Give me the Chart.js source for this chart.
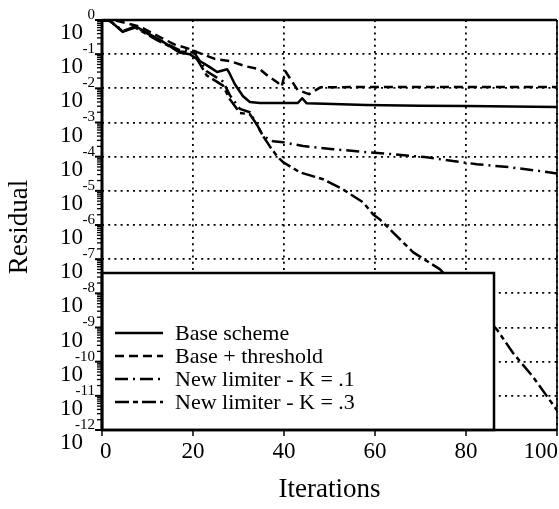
<!DOCTYPE html>
<html>
<head>
<meta charset="utf-8">
<script src="https://cdn.jsdelivr.net/npm/chart.js@4.4.1/dist/chart.umd.min.js"></script>
<style>
  html, body { margin: 0; padding: 0; background: #fff; }
  canvas { display: block; }
</style>
</head>
<body>
<canvas id="c" width="559" height="509"></canvas>
<script>
// Convergence histories: iteration number and log10 of the residual
const baseIter     = [0, 1.8, 4.6, 7.3, 10, 13, 17, 19.3, 21.5, 23.7, 25.3, 27.5, 28.1, 29.2, 31, 32.5, 34.7, 39.8, 43, 44, 45, 50.8, 58, 70, 80, 90, 100];
const baseLogRes   = [0, -0.03, -0.35, -0.18, -0.38, -0.6, -0.95, -1.0, -1.2, -1.38, -1.52, -1.44, -1.58, -1.88, -2.23, -2.40, -2.43, -2.43, -2.43, -2.29, -2.44, -2.46, -2.49, -2.51, -2.52, -2.53, -2.55];

const threshIter   = [0, 3, 5.5, 8.4, 12, 16, 19.3, 20.9, 24.8, 28.1, 31.4, 34.7, 36.5, 38.5, 39.5, 40.3, 43, 45.5, 48, 60, 80, 100];
const threshLogRes = [0, -0.01, -0.1, -0.2, -0.45, -0.72, -0.85, -0.94, -1.14, -1.2, -1.35, -1.44, -1.64, -1.82, -1.95, -1.5, -2.05, -2.17, -1.97, -1.96, -1.96, -1.96];

const k1Iter       = [0, 1.8, 4.6, 7.3, 12, 17, 20, 23, 26.6, 28.1, 30.3, 32.5, 34, 35.4, 37.6, 39.8, 44.2, 50.8, 58.2, 64, 71.4, 77.1, 82.4, 89.7, 95, 100];
const k1LogRes     = [0, -0.03, -0.32, -0.2, -0.55, -0.88, -0.9, -1.5, -1.8, -2.2, -2.6, -2.7, -3.05, -3.4, -3.55, -3.58, -3.69, -3.78, -3.87, -3.93, -4.02, -4.13, -4.22, -4.31, -4.4, -4.49];

const k3Iter       = [0, 1.8, 4.6, 7.3, 12, 17, 20, 23, 26.6, 28.1, 30.3, 32.5, 34, 35.4, 36.9, 38.5, 39.8, 43.5, 48.6, 53, 57.4, 59.6, 61.1, 64, 68.4, 74.3, 80, 86.8, 90.3, 94.7, 100];
const k3LogRes     = [0, -0.03, -0.34, -0.22, -0.58, -0.92, -0.95, -1.62, -1.92, -2.32, -2.72, -2.76, -3.05, -3.4, -3.7, -3.99, -4.16, -4.46, -4.66, -4.96, -5.34, -5.69, -5.84, -6.22, -6.80, -7.30, -8.1, -9.06, -9.74, -10.44, -11.42];

const seriesNames  = ['Base scheme', 'Base + threshold', 'New limiter - K = .1', 'New limiter - K = .3'];
const xTicks       = [0, 20, 40, 60, 80, 100];
const yExponents   = [0, -1, -2, -3, -4, -5, -6, -7, -8, -9, -10, -11, -12];

const FONT = '"Liberation Serif", "Times New Roman", serif';
const toPoints = (its, logs) => its.map((v, i) => ({ x: v, y: Math.pow(10, logs[i]) }));

const lineStyle = (dash) => ({
  borderColor: '#000', borderWidth: 2.5, borderDash: dash,
  pointRadius: 0, tension: 0, fill: false, borderCapStyle: 'butt', borderJoinStyle: 'round'
});

// Frame, tick marks, labels and the boxed key drawn over the plot
const decorations = {
  id: 'decorations',
  afterDatasetsDraw(chart) {
    const { ctx, chartArea: a, scales: { x, y } } = chart;
    ctx.save();

    // key panel
    const kx0 = a.left, kx1 = a.left + 392, ky0 = a.bottom - 157, ky1 = a.bottom;
    ctx.fillStyle = '#fff';
    ctx.fillRect(kx0, ky0, kx1 - kx0, ky1 - ky0);
    ctx.strokeStyle = '#000';
    ctx.lineWidth = 2.5;
    ctx.strokeRect(kx0, ky0, kx1 - kx0, ky1 - ky0);

    ctx.font = '22px ' + FONT;
    ctx.fillStyle = '#000';
    ctx.textAlign = 'left';
    ctx.textBaseline = 'middle';
    chart.data.datasets.forEach((ds, i) => {
      const ry = ky0 + 60 + i * 23;
      ctx.beginPath();
      ctx.lineWidth = 2.5;
      ctx.setLineDash(ds.borderDash || []);
      ctx.moveTo(a.left + 13, ry);
      ctx.lineTo(a.left + 61, ry);
      ctx.stroke();
      ctx.setLineDash([]);
      ctx.fillText(ds.label, a.left + 73, ry + 1);
    });

    // plot frame
    ctx.setLineDash([]);
    ctx.lineWidth = 2.5;
    ctx.beginPath(); ctx.moveTo(a.left, a.top); ctx.lineTo(a.right, a.top); ctx.stroke();
    ctx.beginPath(); ctx.moveTo(a.left, a.bottom); ctx.lineTo(a.right, a.bottom); ctx.stroke();
    ctx.lineWidth = 1.6;
    ctx.beginPath(); ctx.moveTo(a.right, a.top); ctx.lineTo(a.right, a.bottom); ctx.stroke();
    ctx.lineWidth = 3;
    ctx.beginPath(); ctx.moveTo(a.left, a.top - 1); ctx.lineTo(a.left, a.bottom + 1); ctx.stroke();

    // y axis: decade and minor tick marks
    yExponents.forEach((e) => {
      const gy = y.getPixelForValue(Math.pow(10, e));
      ctx.lineWidth = 2;
      ctx.beginPath(); ctx.moveTo(a.left - 7, gy); ctx.lineTo(a.left, gy); ctx.stroke();
      if (e > yExponents[yExponents.length - 1]) {
        for (let j = 2; j <= 9; j++) {
          const my = y.getPixelForValue(j * Math.pow(10, e - 1));
          ctx.lineWidth = 1.3;
          ctx.beginPath(); ctx.moveTo(a.left - 5, my); ctx.lineTo(a.left, my); ctx.stroke();
        }
      }
    });

    // y axis labels: base with exponent
    yExponents.forEach((e) => {
      const gy = y.getPixelForValue(Math.pow(10, e));
      ctx.textAlign = 'right';
      ctx.textBaseline = 'middle';
      ctx.font = '23px ' + FONT;
      ctx.fillText('10', a.left - 19, gy + 13);
      ctx.font = '15px ' + FONT;
      ctx.fillText(String(e), a.left - 7, gy - 5);
    });

    // x axis tick marks and labels
    ctx.font = '23px ' + FONT;
    ctx.textBaseline = 'middle';
    ctx.textAlign = 'left';
    xTicks.forEach((t) => {
      const gx = x.getPixelForValue(t);
      ctx.lineWidth = 1.5;
      ctx.beginPath(); ctx.moveTo(gx, a.bottom); ctx.lineTo(gx, a.bottom + 6); ctx.stroke();
      const label = String(t);
      const w = ctx.measureText(label).width;
      let lx = gx - w / 2;
      lx = Math.max(lx, a.left - 2);
      lx = Math.min(lx, chart.width - 1 - w);
      ctx.fillText(label, lx, a.bottom + 22);
    });

    // axis titles
    ctx.font = '27px ' + FONT;
    ctx.textAlign = 'center';
    ctx.fillText('Iterations', (a.left + a.right) / 2, a.bottom + 60);
    ctx.save();
    ctx.translate(20, (a.top + a.bottom) / 2 + 2);
    ctx.rotate(-Math.PI / 2);
    ctx.fillText('Residual', 0, 0);
    ctx.restore();

    ctx.restore();
  }
};

new Chart(document.getElementById('c'), {
  type: 'line',
  data: {
    datasets: [
      { label: seriesNames[0], data: toPoints(baseIter, baseLogRes), ...lineStyle([]) },
      { label: seriesNames[1], data: toPoints(threshIter, threshLogRes), ...lineStyle([9, 5]) },
      { label: seriesNames[2], data: toPoints(k1Iter, k1LogRes), ...lineStyle([13, 5, 2, 5]) },
      { label: seriesNames[3], data: toPoints(k3Iter, k3LogRes), ...lineStyle([14, 4, 5, 4]) }
    ]
  },
  options: {
    responsive: false,
    animation: false,
    devicePixelRatio: 1,
    layout: { padding: { left: 102, right: 2, top: 20, bottom: 79 } },
    plugins: { legend: { display: false }, tooltip: { enabled: false } },
    scales: {
      x: {
        type: 'linear', min: 0, max: 100,
        afterBuildTicks: (s) => { s.ticks = xTicks.map((v) => ({ value: v })); },
        ticks: { display: false },
        grid: { color: '#000', lineWidth: 1.8, drawTicks: false },
        border: { display: false, dash: [2, 4.2] }
      },
      y: {
        type: 'logarithmic', min: 1e-12, max: 1,
        afterBuildTicks: (s) => { s.ticks = yExponents.map((e) => ({ value: Math.pow(10, e) })); },
        ticks: { display: false },
        grid: { color: '#000', lineWidth: 1.8, drawTicks: false },
        border: { display: false, dash: [2, 4.2] }
      }
    }
  },
  plugins: [decorations]
});
</script>
</body>
</html>
